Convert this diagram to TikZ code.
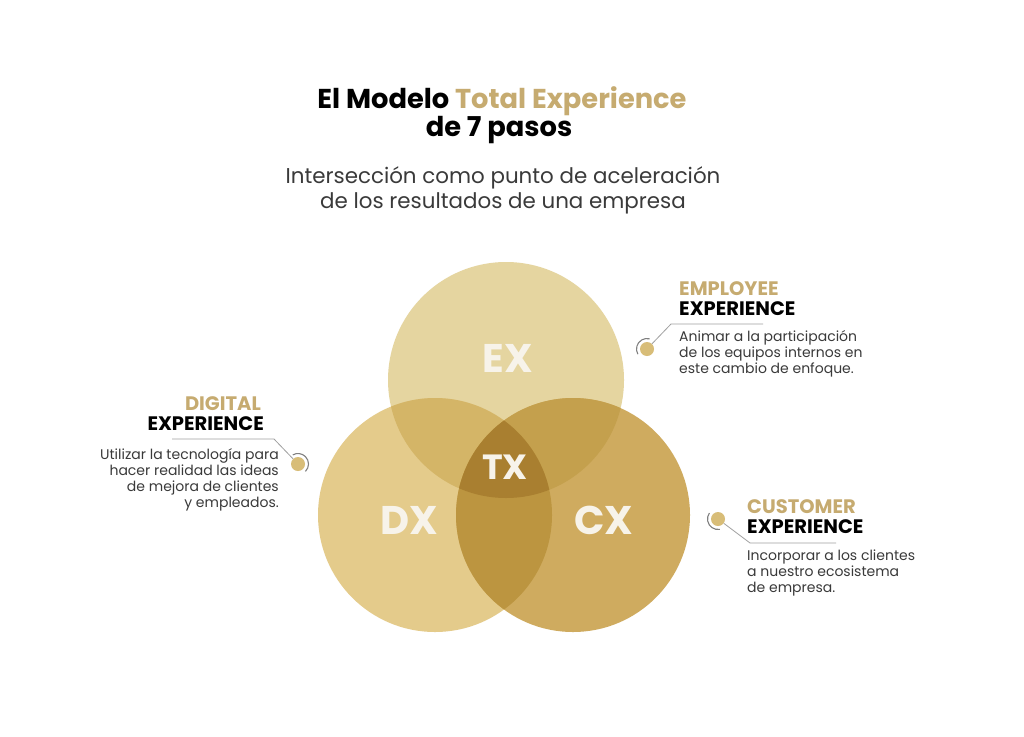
\documentclass[tikz,border=0pt]{standalone}
\usepackage{fontspec}
\setmainfont{Poppins}
\definecolor{gold}{HTML}{C6AB70}
\definecolor{txtgray}{HTML}{3A3A3A}
\definecolor{linegray}{HTML}{A0A0A0}
\definecolor{dotgold}{HTML}{D8BD78}
\definecolor{exc}{HTML}{E5D5A0}
\definecolor{dxc}{HTML}{E4CB8B}
\definecolor{cxc}{HTML}{CFAB5F}
\definecolor{exdx}{HTML}{D4B567}
\definecolor{excx}{HTML}{C4A04D}
\definecolor{dxcx}{HTML}{BC9540}
\definecolor{allc}{HTML}{A97F30}
\definecolor{circtxt}{HTML}{F7F3EA}
\begin{document}
\begin{tikzpicture}[x=1pt,y=-1pt,
  title/.style={font=\fontsize{27.3}{30}\selectfont\bfseries, anchor=center, inner sep=0},
  subt/.style={font=\fontsize{21.4}{25}\selectfont, text=txtgray, align=center, anchor=center, inner sep=0},
  head/.style={font=\fontsize{19.5}{22}\selectfont\bfseries, inner sep=0},
  body/.style={font=\fontsize{14}{16}\selectfont, text=txtgray, inner sep=0},
  circlbl/.style={font=\fontsize{40}{42}\selectfont\bfseries, text=circtxt, inner sep=0},
  conn/.style={draw=linegray, line width=0.8pt},
  dot/.style={circle, fill=dotgold, minimum size=14pt, inner sep=0},
  ring/.style={draw=gray, line width=1.1pt}
]
\useasboundingbox (0,0) rectangle (1024,736);
\fill[white] (0,0) rectangle (1024,736);

% circles
\fill[exc] (506,380) circle (118);
\fill[dxc] (435,515) circle (117);
\fill[cxc] (573,515) circle (117);
\begin{scope}
  \clip (506,380) circle (118);
  \fill[exdx] (435,515) circle (117);
  \fill[excx] (573,515) circle (117);
\end{scope}
\begin{scope}
  \clip (435,515) circle (117);
  \fill[dxcx] (573,515) circle (117);
  \clip (506,380) circle (118);
  \fill[allc] (573,515) circle (117);
\end{scope}

\node[circlbl] (ex) at (508,358) {EX};
\node[circlbl, font=\fontsize{35}{37}\selectfont\bfseries] (tx) at (505,467) {TX};
\node[circlbl] (dx) at (409,520) {DX};
\node[circlbl] (cx) at (604,520) {CX};

% title
\node[title] (t1) at (502,101) {El Modelo \textcolor{gold}{Total Experience}};
\node[title] (t2) at (499,130) {de 7 pasos};
\node[subt] (s1) at (503,178) {Intersección como punto de aceleración};
\node[subt] (s2) at (503,203) {de los resultados de una empresa};

% employee
\node[head, text=gold, anchor=west] (eh1) at (679,289) {EMPLOYEE};
\node[head, anchor=west] (eh2) at (679,309) {EXPERIENCE};
\node[body, anchor=north west, align=left] (eb) at (679,330) {Animar a la participación\\de los equipos internos en\\este cambio de enfoque.};
\node[dot] (ed) at (647,349) {};
\draw[ring] (ed.center) ++(150:10.5) arc[start angle=150, end angle=285, radius=10.5];
\coordinate (ec) at (671,324);
\coordinate (ee) at (763,324);
\draw[conn] (ed) -- (ec) -- (ee);

% digital
\node[head, text=gold, anchor=east] (dh1) at (261,404) {DIGITAL};
\node[head, anchor=east] (dh2) at (264,424) {EXPERIENCE};
\node[body, anchor=north east, align=right] (db) at (279,448) {Utilizar la tecnología para\\hacer realidad las ideas\\de mejora de clientes\\y empleados.};
\node[dot] (dd) at (298,464) {};
\draw[ring] (dd.center) ++(45:10.5) arc[start angle=45, end angle=-120, radius=10.5];
\coordinate (dc) at (274,439);
\coordinate (de) at (172,439);
\draw[conn] (dd) -- (dc) -- (de);

% customer
\node[head, text=gold, anchor=west] (ch1) at (747,507) {CUSTOMER};
\node[head, anchor=west] (ch2) at (747,527) {EXPERIENCE};
\node[body, anchor=north west, align=left] (cb) at (747,550) {Incorporar a los clientes\\a nuestro ecosistema\\de empresa.};
\node[dot] (cd) at (718,519) {};
\draw[ring] (cd.center) ++(80:10.5) arc[start angle=80, end angle=215, radius=10.5];
\coordinate (cc) at (750,543);
\coordinate (ce) at (836,543);
\draw[conn] (cd) -- (cc) -- (ce);
\end{tikzpicture}
\end{document}
